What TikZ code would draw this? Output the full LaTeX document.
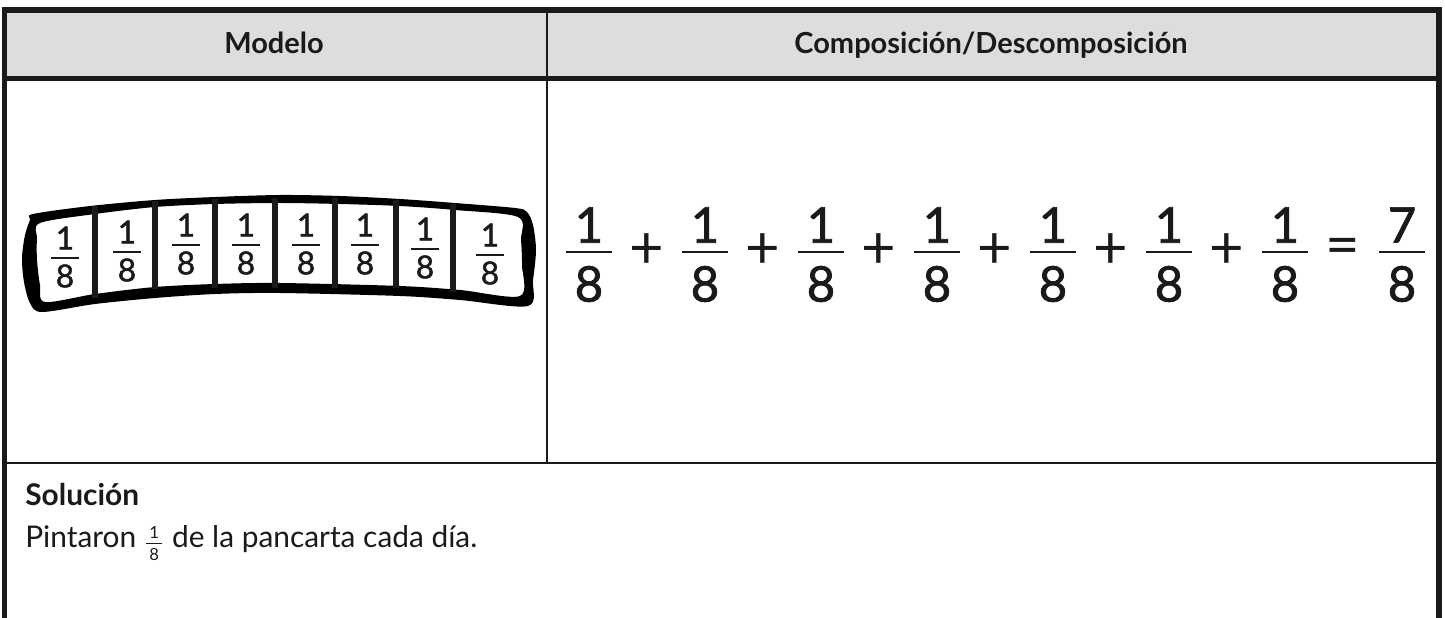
\documentclass[tikz,border=0pt]{standalone}
\usepackage{fontspec}
\setmainfont{Lato}
\newfontfamily\numfont{Lato}[FakeBold=1.5]
\usetikzlibrary{positioning}
\definecolor{hdrgray}{HTML}{DEDDDC}
\definecolor{ink}{HTML}{1A1A1A}

\tikzset{
  frame/.style={draw=ink, line width=2.85pt},
  thinrule/.style={draw=ink, line width=1.14pt},
  divider/.style={draw=ink, line width=2.85pt},
  smallbar/.style={draw=ink, line width=1.1pt},
  bigbar/.style={draw=ink, line width=1.7pt},
  hdr/.style={font=\fontsize{16.5}{19}\selectfont\bfseries, text=ink, anchor=base, inner sep=0pt},
  body/.style={font=\fontsize{17}{19}\selectfont, text=ink, anchor=base west, inner sep=0pt},
  tinydigit/.style={font=\fontsize{9.5}{10}\selectfont, text=ink, inner sep=0pt},
  smalldigit/.style={font=\numfont\fontsize{18}{20}\selectfont, text=ink, inner sep=0pt},
  bigdigit/.style={font=\numfont\fontsize{28}{30}\selectfont, text=ink, inner sep=0pt},
  bigsign/.style={font=\fontsize{34}{36}\selectfont, text=ink, inner sep=0pt},
}

\begin{document}
\begin{tikzpicture}[x=0.02cm,y=-0.02cm]
		\useasboundingbox (0,0) rectangle (1445,618);

		% Table
		\fill[hdrgray] (7,12) rectangle (1436,76);
		\draw[frame] (2,10) -- (1442,10);
		\draw[frame] (4.5,7.5) -- (4.5,618);
		\draw[ink, line width=3.4pt] (1439,7.5) -- (1439,618);
		\draw[frame] (7,78.5) -- (1436,78.5);
		\draw[thinrule] (547,12) -- (547,463);
		\draw[thinrule] (7,463) -- (1436,463);

		\node[hdr] (modelo) at (274,54) {Modelo};
		\node[hdr] (compos) at (991,54) {Composición/Descomposición};

		% Banner
		\fill[black, even odd rule]
			plot[smooth cycle, tension=0.5] coordinates {(33,214) (90,206) (155,200) (215,197) (280,195) (340,196) (400,199) (455,203) (515,208) (527,212) (533,225) (536,250) (533,280) (528,306) (460,300) (400,296) (280,293) (215,294) (155,298) (95,304) (42,312) (30,303) (24,282) (22,258) (25,235) (30,220)}
			plot[smooth cycle, tension=0.5] coordinates {(40,223) (95,214) (155,207) (215,204) (280,203) (340,204) (400,206) (455,210) (518,217) (521,240) (522,265) (520,296) (460,290) (400,286) (280,283) (215,284) (155,287) (95,294) (45,302) (40,285) (37,260) (37,238)};
		\foreach \x/\t/\b in {95/206/298, 155/201/289, 215/199/288, 275/198/288, 335/198/288, 396/200/288, 453/204/292}
			\draw[divider] (\x,\t) -- (\x,\b);
		\foreach \x/\y [count=\i] in {65/258, 127/252, 186/245, 246/245, 306/245, 365/245, 425/249, 490/255} {
			\node[smalldigit] (bn\i) at (\x,\y-20) {1};
			\node[smalldigit] (bd\i) at (\x,\y+18) {8};
			\draw[smallbar] (\x-14,\y) -- (\x+14,\y);
		}

		% Sum
		\foreach \x [count=\i] in {589,705,821,937,1053,1169,1285} {
			\node[bigdigit] (en\i) at (\x,225) {1};
			\node[bigdigit] (ed\i) at (\x,284) {8};
			\draw[bigbar] (\x-23,252) -- (\x+23,252);
		}
		\foreach \x [count=\i] in {647,763,879,995,1111,1227}
			\node[bigsign] (plus\i) at (\x,251) {+};
		\node[bigsign] (equals) at (1343,252) {=};
		\node[bigdigit] (rn) at (1402,225) {7};
		\node[bigdigit] (rd) at (1402,284) {8};
		\draw[bigbar] (1379,252) -- (1425,252);

		% Solution
		\node[body] (solhead) at (25,505) {\bfseries Solución};
		\node[body] (pint) at (25,547) {Pintaron};
		\coordinate[right=10pt of pint.base east] (fmid);
		\node[tinydigit] (sn) at ([yshift=8.5pt]fmid) {1};
		\node[tinydigit] (sd) at ([yshift=-4.5pt]fmid) {8};
		\draw[ink, line width=0.6pt] ([xshift=-4.5pt,yshift=1.9pt]fmid) -- ([xshift=4.5pt,yshift=1.9pt]fmid);
		\node[body, base right=10pt of fmid] (rest) {de la pancarta cada día.};
	\end{tikzpicture}
\end{document}
